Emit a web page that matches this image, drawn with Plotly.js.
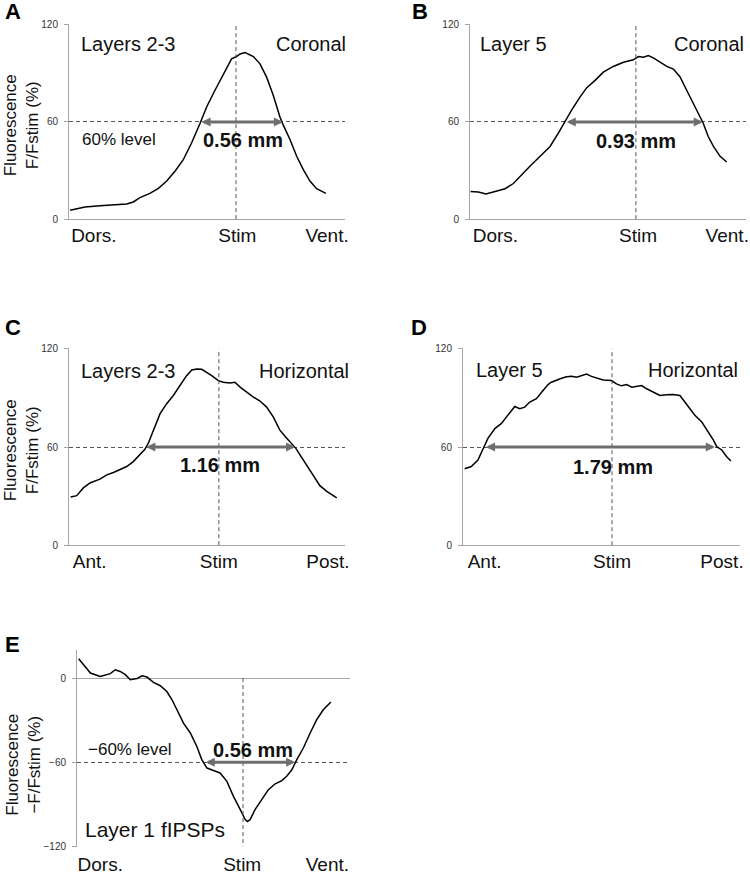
<!DOCTYPE html>
<html>
<head>
<meta charset="utf-8">
<script src="https://cdn.plot.ly/plotly-3.0.1.min.js"></script>
<style>
body{margin:0;background:#fff}
#plot{width:750px;height:876px}
</style>
</head>
<body>
<div id="plot"></div>
<script>
// positions along each profile: 0 = left end of the axis, 100 = right end
var aX = [0.4,5.8,11.2,16.1,20.9,23.3,25.7,29.3,32.4,35.4,38.4,41.4,44.4,47.5,49.9,52.9,55.9,58.9,60.7,62.0,63.8,65.0,66.8,69.2,71.6,74.0,76.4,77.6,80.1,82.5,84.9,87.3,89.7,93.1];
var aY = [5.5,7.5,8.2,9.0,9.4,10.6,13.3,15.9,19.0,23.5,29.6,36.7,47.0,59.2,69.4,79.6,89.8,99.0,100.4,102.0,102.9,102.0,100.4,95.9,87.7,76.5,63.2,58.2,49.0,38.8,30.6,23.5,18.8,15.9];

var bX = [0.2,3.0,5.8,9.1,12.7,15.7,18.1,21.7,25.4,29.0,32.0,34.4,36.8,39.9,42.3,45.3,48.3,51.9,55.6,59.2,61.0,62.8,64.6,66.4,68.8,71.3,73.7,76.1,78.5,80.9,83.3,84.5,86.3,88.2,90.6,93.0];
var bY = [17.0,16.7,15.5,17.3,18.8,22.0,26.5,32.7,38.8,44.9,53.1,60.2,67.3,75.5,81.2,85.7,90.8,94.3,96.9,98.4,100.4,100.0,101.0,99.6,96.9,94.3,92.7,87.8,79.6,71.4,63.2,59.2,51.0,44.9,38.8,35.3];

var cX = [0.6,2.8,5.2,7.6,11.2,13.7,16.1,18.5,20.9,23.3,25.7,27.5,28.7,30.6,33.0,35.4,37.8,40.2,42.6,44.5,46.3,48.1,49.9,51.7,54.1,55.9,58.3,60.1,62.0,64.4,66.8,69.2,71.6,74.0,76.4,78.9,80.7,82.2,83.7,86.1,88.5,90.9,93.4,95.2,97.0];
var cY = [29.5,30.3,35.0,38.0,40.4,43.0,44.4,46.5,48.1,51.1,55.2,58.6,62.2,70.3,80.4,86.5,91.5,97.6,103.6,107.1,107.7,107.5,105.7,103.6,100.6,99.6,99.2,99.6,96.6,93.5,90.5,88.1,84.4,78.4,70.3,65.3,62.2,59.2,55.2,49.1,43.0,36.4,32.9,30.9,28.9];

var dX = [0.6,3.0,5.4,7.2,9.0,11.5,13.9,15.7,17.5,18.7,20.5,22.3,24.1,26.5,28.9,30.7,31.9,33.8,35.6,37.4,39.2,41.0,42.8,44.6,46.4,48.2,50.6,53.6,55.4,57.2,59.1,60.9,62.7,64.5,66.3,68.7,71.1,73.5,75.9,78.3,80.1,81.9,83.7,86.2,88.5,90.4,91.6,93.4,95.2,96.7];
var dY = [46.7,48.1,52.1,59.2,65.3,71.3,74.4,78.4,82.4,84.8,83.4,84.4,87.5,89.5,94.5,98.2,99.6,100.6,102.0,103.0,103.2,102.6,103.4,104.6,103.2,102.2,101.0,100.6,98.6,97.4,98.2,96.6,97.0,97.6,95.6,93.5,91.5,91.9,92.1,91.5,87.5,83.4,79.4,75.3,69.3,64.2,60.2,58.2,54.1,51.5];

var eX = [0.6,2.4,4.9,8.5,12.2,14.0,15.8,17.7,19.5,22.0,23.8,25.6,28.0,30.5,32.9,34.8,36.6,39.0,41.5,43.9,45.7,47.6,50.0,52.4,54.9,57.3,59.8,61.6,62.4,63.4,65.2,67.7,70.1,72.6,75.0,76.8,78.7,80.5,82.9,85.4,87.8,90.2,93.0];
var eY = [13.8,9.5,3.6,1.1,3.1,5.9,4.7,2.4,-1.2,-0.3,1.6,0.7,-3.1,-5.5,-9.6,-15.5,-22.6,-32.1,-39.2,-48.8,-58.2,-64.2,-65.9,-67.7,-73.7,-84.4,-93.9,-101.0,-102.4,-101.0,-93.9,-86.8,-79.6,-75.4,-73.2,-70.1,-65.4,-58.2,-49.9,-39.2,-29.7,-22.6,-17.1];

var tickCoronal = ['Dors.', 'Stim', 'Vent.'];
var tickHorizontal = ['Ant.', 'Stim', 'Post.'];
var yTicksUp = [0, 60, 120];
var yTicksDown = [-120, -60, 0];
var stimPos = [60.5, 60.1, 54.3, 53.8, 60.8];
var widthText = ['0.56 mm', '0.93 mm', '1.16 mm', '1.79 mm', '0.56 mm'];
var arrowFrom = [47.5, 34.5, 27.5, 7.8, 46.6];
var arrowTo = [77.5, 84.3, 81.9, 90.9, 79.9];
var levels = [60, 60, 60, 60, -60];

var FONT = 'Arial, "Liberation Sans", sans-serif';
var panels = [
  {s:'', xs:aX, ys:aY, dom:[0.092,0.46], ydom:[0.7489,0.9726], down:false, tv:[9,61,93.5], tt:tickCoronal},
  {s:'2', xs:bX, ys:bY, dom:[0.6267,0.9947], ydom:[0.7489,0.9726], down:false, tv:[9.2,60.9,93.2], tt:tickCoronal},
  {s:'3', xs:cX, ys:cY, dom:[0.092,0.46], ydom:[0.3767,0.6027], down:false, tv:[7.5,54.3,93.8], tt:tickHorizontal},
  {s:'4', xs:dX, ys:dY, dom:[0.6173,0.9867], ydom:[0.3767,0.6027], down:false, tv:[7.8,53.8,93.5], tt:tickHorizontal},
  {s:'5', xs:eX, ys:eY, dom:[0.1027,0.4667], ydom:[0.0331,0.2580], down:true, tv:[8.5,60.5,91.7], tt:tickCoronal}
];

var data = [];
var layout = {
  width: 750, height: 876,
  margin: {l:0, r:0, t:0, b:0},
  paper_bgcolor: '#fff', plot_bgcolor: '#fff',
  showlegend: false,
  font: {family: FONT, color: '#111'},
  shapes: [], annotations: []
};

function txt(s, x, y, text, size, anchor, bold, xshift) {
  layout.annotations.push({
    xref: 'x' + s, yref: 'y' + s, x: x, y: y,
    text: bold ? '<b>' + text + '</b>' : text,
    showarrow: false, xanchor: anchor, yanchor: 'middle',
    xshift: xshift || 0,
    font: {family: FONT, size: size, color: '#111'}
  });
}

for (var i = 0; i < panels.length; i++) {
  var p = panels[i];
  data.push({
    x: p.xs, y: p.ys, xaxis: 'x' + p.s, yaxis: 'y' + p.s,
    type: 'scatter', mode: 'lines',
    line: {color: '#000', width: 1.5}
  });
  layout['xaxis' + p.s] = {
    domain: p.dom, range: [0, 100], anchor: 'y' + p.s,
    showgrid: false, zeroline: false, showline: false, ticks: '',
    tickvals: p.tv, ticktext: p.tt, ticklabeloverflow: 'allow',
    ticklabelstandoff: p.down ? 4 : 2,
    tickfont: {family: FONT, size: 19, color: '#111'}
  };
  layout['yaxis' + p.s] = {
    domain: p.ydom, range: p.down ? [-120.5, 20] : [-0.5, 120.5], anchor: 'x' + p.s,
    tickvals: p.down ? yTicksDown : yTicksUp, ticks: 'outside', ticklen: 4, tickcolor: '#a6a6a6',
    ticklabelstandoff: 4,
    showline: true, linecolor: '#a6a6a6', linewidth: 1,
    showgrid: true, gridcolor: '#555', griddash: '4px,3px', gridwidth: 1,
    zeroline: true, zerolinecolor: '#a6a6a6', zerolinewidth: 1,
    tickfont: {family: FONT, size: 10, color: '#333'}
  };
  // dashed line at the stimulation site
  layout.shapes.push({
    type: 'line', xref: 'x' + p.s, yref: 'y' + p.s,
    x0: stimPos[i], x1: stimPos[i],
    y0: 0, y1: p.down ? -120 : 120,
    line: {color: '#555', width: 1, dash: '4px,3px'}
  });
  // width arrow at the 60% level
  layout.annotations.push({
    xref: 'x' + p.s, yref: 'y' + p.s, axref: 'x' + p.s, ayref: 'y' + p.s,
    x: arrowTo[i], y: levels[i], ax: arrowFrom[i], ay: levels[i],
    text: '', showarrow: true, arrowside: 'end+start',
    arrowhead: 2, startarrowhead: 2, arrowsize: 0.6, startarrowsize: 0.6,
    arrowwidth: 3, arrowcolor: '#6e6e6e'
  });
}

txt('', 3.6, 108.4, 'Layers 2-3', 20, 'left');
txt('', 100, 108.4, 'Coronal', 20, 'right', false, 3);
txt('', 4, 49, '60% level', 17, 'left');
txt('', 63, 49, widthText[0], 20, 'center', true);

txt('2', 2.8, 108.4, 'Layer 5', 20, 'left');
txt('2', 100, 108.4, 'Coronal', 20, 'right');
txt('2', 60, 48, widthText[1], 20, 'center', true);

txt('3', 3.6, 106.7, 'Layers 2-3', 20, 'left');
txt('3', 100, 106.7, 'Horizontal', 20, 'right', false, 6);
txt('3', 54.6, 49, widthText[2], 20, 'center', true);

txt('4', 4.1, 107, 'Layer 5', 20, 'left');
txt('4', 100, 107, 'Horizontal', 20, 'right');
txt('4', 54.2, 48, widthText[3], 20, 'center', true);

txt('5', 3.4, -51, '\u221260% level', 17, 'left');
txt('5', 64.5, -51, widthText[4], 20, 'center', true);
txt('5', 2.3, -108, 'Layer 1 fIPSPs', 21, 'left');

// y titles
var ytitles = [
  {x: 0.028, y: 0.857, t: 'Fluorescence<br>F/Fstim (%)'},
  {x: 0.028, y: 0.486, t: 'Fluorescence<br>F/Fstim (%)'},
  {x: 0.032, y: 0.127, t: 'Fluorescence<br>\u2212F/Fstim (%)'}
];
ytitles.forEach(function(a) {
  layout.annotations.push({
    xref: 'paper', yref: 'paper', x: a.x, y: a.y, text: a.t,
    textangle: -90, showarrow: false, xanchor: 'center', yanchor: 'middle',
    font: {family: FONT, size: 17, color: '#111'}
  });
});

// panel letters
var letters = [['A',0.0173,0.9874],['B',0.56,0.9874],['C',0.0173,0.6256],['D',0.5587,0.6256],['E',0.0173,0.2637]];
letters.forEach(function(l) {
  layout.annotations.push({
    xref: 'paper', yref: 'paper', x: l[1], y: l[2], text: '<b>' + l[0] + '</b>',
    showarrow: false, xanchor: 'center', yanchor: 'middle',
    font: {family: FONT, size: 22, color: '#000'}
  });
});

Plotly.newPlot('plot', data, layout, {staticPlot: true});
</script>
</body>
</html>
